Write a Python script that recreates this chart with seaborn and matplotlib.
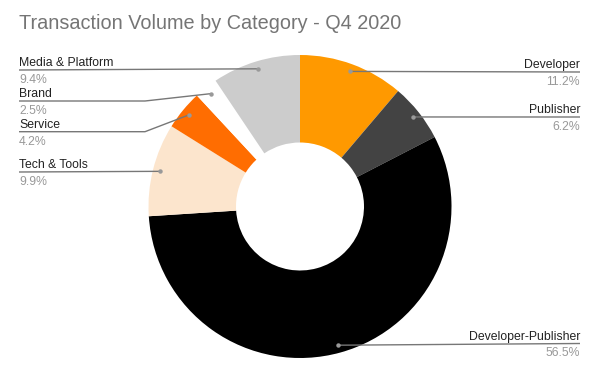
import numpy as np
import matplotlib
matplotlib.use("Agg")
import matplotlib.pyplot as plt
import seaborn as sns

categories = ["Developer", "Publisher", "Developer-Publisher", "Tech & Tools",
              "Service", "Brand", "Media & Platform"]
values = [11.2, 6.2, 56.5, 9.9, 4.2, 2.5, 9.4]
pct_labels = ["11.2%", "6.2%", "56.5%", "9.9%", "4.2%", "2.5%", "9.4%"]
colors = ["#ff9900", "#434343", "#000000", "#fce5cd", "#ff6d01", "#ffffff", "#cccccc"]
title = "Transaction Volume by Category - Q4 2020"

sns.set_theme(style="white")
plt.rcParams['font.family'] = ['Liberation Sans', 'DejaVu Sans']

W, H = 600, 377
fig = plt.figure(figsize=(6, 3.77), dpi=100)
ax = fig.add_axes([0, 0, 1, 1])

cx, cy_px = 300, 206.5
cy = H - cy_px
R = 151.5
r_in = 64
ax.pie(values, colors=colors, startangle=90, counterclock=False,
       center=(cx, cy), radius=R,
       wedgeprops=dict(width=R - r_in, linewidth=0), frame=True)
ax.set_xlim(0, W)
ax.set_ylim(0, H)
ax.set_aspect('equal')
ax.axis('off')

# label layout (pixel rows of leader lines, side, elbow)
line_y = [72, 117, 343.5, 172, 131.7, 101, 70]
side = ["R", "R", "R", "L", "L", "L", "L"]
elbow = [None, None, None, None, 145, 145, None]
xr, xl = 580, 19

total = sum(values)
cum = np.cumsum([0] + values[:-1])
for i, cat in enumerate(categories):
    mid = (cum[i] + values[i] / 2) / total * 360.0
    ang = np.deg2rad(90 - mid)
    dx = cx + 0.95 * R * np.cos(ang)
    dy = cy + 0.95 * R * np.sin(ang)
    ly = H - line_y[i]
    if side[i] == "R":
        xs = [dx, xr]
        ys = [dy, ly]
        tx, ha = xr, "right"
    else:
        if elbow[i] is not None:
            xs = [xl, elbow[i], dx]
            ys = [ly, ly, dy]
        else:
            xs = [xl, dx]
            ys = [ly, dy]
        tx, ha = xl, "left"
    ax.plot(xs, ys, color="#777777", lw=1, solid_capstyle="butt", zorder=3)
    ax.plot([dx], [dy], "o", color="#999999", ms=3.2, mec="none", zorder=4)
    ax.text(tx, ly + 3.7, cat, ha=ha, va="baseline", fontsize=8.8, color="#222222")
    ax.text(tx, ly - 13, pct_labels[i], ha=ha, va="baseline", fontsize=8.8, color="#999999")

ax.text(19, H - 29.3, title, ha="left", va="baseline", fontsize=14.3, color="#757575")

fig.savefig("out.png", dpi=100)
